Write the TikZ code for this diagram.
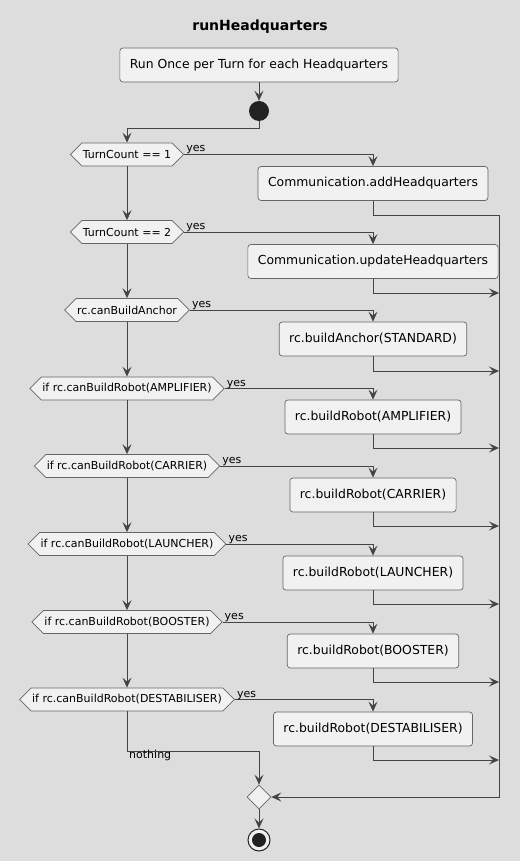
\documentclass[tikz,border=0pt]{standalone}
\usepackage{fontspec}
\setmainfont{DejaVu Sans}
\usetikzlibrary{arrows.meta,shapes.geometric,shapes.symbols}
\definecolor{bg}{HTML}{DDDDDD}
\definecolor{boxfill}{HTML}{F1F1F1}
\definecolor{edge}{HTML}{444444}
\definecolor{frame}{HTML}{666666}
\definecolor{dot}{HTML}{222222}
\tikzset{
  action/.style={draw=frame, line width=0.7pt, fill=boxfill, rounded corners=3pt,
    minimum height=34pt, inner xsep=10pt, font=\fontsize{12.4}{14}\selectfont},
  test/.style={signal, signal to=west and east, signal pointer angle=90,
    draw=frame, line width=0.7pt, fill=boxfill, minimum height=23pt,
    inner xsep=1pt, inner ysep=0pt, font=\fontsize{11}{13}\selectfont},
  merge/.style={diamond, draw=frame, line width=0.7pt, fill=boxfill,
    minimum size=24pt, inner sep=0pt},
  wire/.style={draw=edge, line width=1pt},
  flow/.style={wire, -{Stealth[length=10pt,width=9pt,inset=4pt]}},
  lbl/.style={font=\fontsize{11}{13}\selectfont, inner sep=0pt},
}
\begin{document}
\begin{tikzpicture}[x=1pt,y=-1pt]
  \fill[bg] (0,0) rectangle (520,861);
  \useasboundingbox (0,0) rectangle (520,861);

  % title and entry
  \node[font=\bfseries\fontsize{14}{16}\selectfont] (title) at (260,27) {runHeadquarters};
  \node[action] (intro) at (259,65) {Run Once per Turn for each Headquarters};
  \node[circle, fill=dot, minimum size=20pt, inner sep=0pt] (start) at (259,111) {};

  % decisions on the left spine
  \node[test] (d1) at (127,154.5) {TurnCount == 1};
  \node[test] (d2) at (127,232) {TurnCount == 2};
  \node[test] (d3) at (127,310) {rc.canBuildAnchor};
  \node[test] (d4) at (127,388.5) {if rc.canBuildRobot(AMPLIFIER)};
  \node[test] (d5) at (127,466) {if rc.canBuildRobot(CARRIER)};
  \node[test] (d6) at (127,544) {if rc.canBuildRobot(LAUNCHER)};
  \node[test] (d7) at (127,622) {if rc.canBuildRobot(BOOSTER)};
  \node[test] (d8) at (127,699.5) {if rc.canBuildRobot(DESTABILISER)};

  % actions on the right
  \node[action] (a1) at (373,183.5) {Communication.addHeadquarters};
  \node[action] (a2) at (373,261.5) {Communication.updateHeadquarters};
  \node[action] (a3) at (373,339) {rc.buildAnchor(STANDARD)};
  \node[action] (a4) at (373,417) {rc.buildRobot(AMPLIFIER)};
  \node[action] (a5) at (373,495) {rc.buildRobot(CARRIER)};
  \node[action] (a6) at (373,573) {rc.buildRobot(LAUNCHER)};
  \node[action] (a7) at (373,651) {rc.buildRobot(BOOSTER)};
  \node[action] (a8) at (373,729) {rc.buildRobot(DESTABILISER)};

  % join and final state
  \node[merge] (join) at (259,797) {};
  \node[circle, draw=dot, line width=1pt, fill=boxfill, minimum size=22pt, inner sep=0pt] (stop) at (259,840) {};
  \node[circle, fill=dot, minimum size=14pt, inner sep=0pt] at (stop) {};

  % collector rail on the right
  \coordinate (rail) at (499,215);
  \coordinate (r2) at (499,293);
  \coordinate (r3) at (499,371);
  \coordinate (r4) at (499,448);
  \coordinate (r5) at (499,526);
  \coordinate (r6) at (499,604);
  \coordinate (r7) at (499,682);
  \coordinate (r8) at (499,760);
  \coordinate (nj) at (127,751);

  % spine
  \draw[flow] (intro) -- (start);
  \draw[flow] (start.south) -- ++(0,7) -| (d1.north);
  \draw[flow] (d1.south) -- (d2.north);
  \draw[flow] (d2.south) -- (d3.north);
  \draw[flow] (d3.south) -- (d4.north);
  \draw[flow] (d4.south) -- (d5.north);
  \draw[flow] (d5.south) -- (d6.north);
  \draw[flow] (d6.south) -- (d7.north);
  \draw[flow] (d7.south) -- (d8.north);

  % yes branches
  \foreach \d/\a in {d1/a1,d2/a2,d3/a3,d4/a4,d5/a5,d6/a6,d7/a7,d8/a8}{
    \draw[flow] (\d.east) -| (\a.north);
    \node[lbl, anchor=base west] at ([xshift=2pt,yshift=2.5pt]\d.east) {yes};
  }

  % results into the rail
  \draw[wire] (a1.south) |- (rail);
  \draw[flow] (rail) |- (join.east);
  \foreach \a/\r in {a2/r2,a3/r3,a4/r4,a5/r5,a6/r6,a7/r7,a8/r8}
    \draw[flow] (\a.south) |- (\r);

  % fall-through
  \draw[flow] (d8.south) -- (nj) -| (join.north);
  \node[lbl, anchor=base west] at ([xshift=2pt,yshift=-7pt]nj) {nothing};
  \draw[flow] (join.south) -- (stop.north);
\end{tikzpicture}
\end{document}
